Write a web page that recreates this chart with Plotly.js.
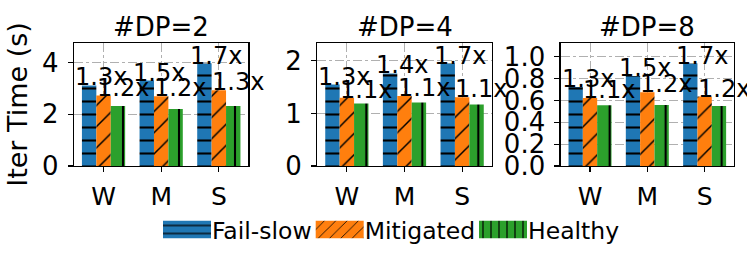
<!DOCTYPE html>
<html>
<head>
<meta charset="utf-8">
<script src="https://cdn.plot.ly/plotly-3.0.1.min.js"></script>
<style>html,body{margin:0;padding:0;background:#fff;}</style>
</head>
<body>
<div id="chart" style="width:747px;height:253px;"></div>
<script>
// ---- data ----
const categories = ['W', 'M', 'S'];
const panelTitles = ['#DP=2', '#DP=4', '#DP=8'];
const seriesNames = ['Fail-slow', 'Mitigated', 'Healthy'];

const failSlowDP2 = [3.12, 3.31, 3.97];
const mitigatedDP2 = [2.73, 2.70, 2.93];
const healthyDP2 = [2.32, 2.21, 2.32];
const failLabelsDP2 = ['1.3x', '1.5x', '1.7x'];
const mitLabelsDP2 = ['1.2x', '1.2x', '1.3x'];

const failSlowDP4 = [1.55, 1.76, 1.95];
const mitigatedDP4 = [1.30, 1.33, 1.31];
const healthyDP4 = [1.19, 1.21, 1.17];
const failLabelsDP4 = ['1.3x', '1.4x', '1.7x'];
const mitLabelsDP4 = ['1.1x', '1.1x', '1.1x'];

const failSlowDP8 = [0.722, 0.823, 0.938];
const mitigatedDP8 = [0.622, 0.674, 0.636];
const healthyDP8 = [0.556, 0.559, 0.548];
const failLabelsDP8 = ['1.3x', '1.5x', '1.7x'];
const mitLabelsDP8 = ['1.1x', '1.2x', '1.2x'];

const yTickValsDP2 = [0, 2, 4];
const yTickValsDP4 = [0, 1, 2];
const yTickValsDP8 = [0, 0.2, 0.4, 0.6, 0.8, 1.0];

// ---- style ----
const FONT = 'DejaVu Sans, Liberation Sans, sans-serif';
const colors = ['#1f77b4', '#ff7f0e', '#2ca02c'];
const shapes = ['-', '/', '|'];
const patSize = [13, 15, 14];
const patSolid = [0.16, 0.1, 0.15];
const barW = 0.25;
const offsets = [-0.25, 0, 0.25];

const panels = [
  {fail: failSlowDP2, mit: mitigatedDP2, healthy: healthyDP2, fl: failLabelsDP2, ml: mitLabelsDP2, ticks: yTickValsDP2, fmt: ''},
  {fail: failSlowDP4, mit: mitigatedDP4, healthy: healthyDP4, fl: failLabelsDP4, ml: mitLabelsDP4, ticks: yTickValsDP4, fmt: ''},
  {fail: failSlowDP8, mit: mitigatedDP8, healthy: healthyDP8, fl: failLabelsDP8, ml: mitLabelsDP8, ticks: yTickValsDP8, fmt: '.1f'}
];

const catPos = categories.map((c, i) => i);
const traces = [];
const annotations = [];
const layout = {
  width: 747, height: 253,
  margin: {l: 74, r: 12.5, t: 42.5, b: 79, pad: 0},
  paper_bgcolor: '#fff', plot_bgcolor: '#fff',
  font: {family: FONT, size: 22, color: '#000'},
  barmode: 'overlay',
  showlegend: true,
  legend: {
    orientation: 'h', x: 0.478, xanchor: 'center', y: -0.43, yanchor: 'middle',
    font: {family: FONT, size: 23.5, color: '#000'},
    tracegroupgap: 0, bgcolor: 'rgba(0,0,0,0)',
    itemclick: false, itemdoubleclick: false
  },
  annotations: annotations
};

const domains = [[0, 0.26420], [0.36866, 0.63286], [0.73732, 1]];

panels.forEach((p, k) => {
  const sfx = k === 0 ? '' : String(k + 1);
  const xa = 'x' + sfx, ya = 'y' + sfx;
  const series = [p.fail, p.mit, p.healthy];
  series.forEach((vals, s) => {
    traces.push({
      type: 'bar',
      name: seriesNames[s],
      legendgroup: seriesNames[s],
      showlegend: k === 0,
      x: catPos.map(i => i + offsets[s]),
      y: vals,
      width: barW,
      xaxis: xa, yaxis: ya,
      marker: {
        color: colors[s],
        line: {width: 0},
        pattern: {shape: shapes[s], fgcolor: '#000', bgcolor: colors[s], size: patSize[s], solidity: patSolid[s], fillmode: 'replace'}
      },
      hoverinfo: 'skip'
    });
  });
  const maxVal = Math.max(...p.fail, ...p.mit, ...p.healthy);
  layout['xaxis' + sfx] = {
    domain: domains[k], anchor: ya,
    range: [-0.5125, 2.5125],
    tickvals: catPos, ticktext: categories,
    tickfont: {family: FONT, size: 25, color: '#000'},
    ticklabelstandoff: 3,
    showline: true, linecolor: '#000', linewidth: 1.2, mirror: true,
    ticks: 'outside', ticklen: 5, tickwidth: 1.2, tickcolor: '#000',
    showgrid: true, gridcolor: '#b0b0b0', griddash: 'dashdot', gridwidth: 1,
    zeroline: false, fixedrange: true
  };
  layout['yaxis' + sfx] = {
    domain: [0, 1], anchor: xa,
    range: [0, maxVal * 1.2],
    tickvals: p.ticks, tickformat: p.fmt,
    tickfont: {family: FONT, size: 26, color: '#000'},
    ticklabelstandoff: 4,
    showline: true, linecolor: '#000', linewidth: 1.2, mirror: true,
    ticks: 'outside', ticklen: 5, tickwidth: 1.2, tickcolor: '#000',
    showgrid: true, gridcolor: '#b0b0b0', griddash: 'dashdot', gridwidth: 1,
    zeroline: false, fixedrange: true
  };
  if (k === 0) {
    layout.yaxis.title = {text: 'Iter Time (s)', font: {family: FONT, size: 27, color: '#000'}, standoff: 6};
  }
  annotations.push({
    text: panelTitles[k], xref: xa + ' domain', x: 0.5, yref: 'paper', y: 1,
    xanchor: 'center', yanchor: 'bottom', yshift: -1, showarrow: false,
    font: {family: FONT, size: 26, color: '#000'}
  });
  catPos.forEach(i => {
    annotations.push({
      text: p.fl[i], xref: xa, yref: ya, x: i + offsets[0], y: p.fail[i],
      xanchor: 'center', yanchor: 'bottom', xshift: 12, yshift: -8, showarrow: false,
      font: {family: FONT, size: 24, color: '#000'}
    });
    annotations.push({
      text: p.ml[i], xref: xa, yref: ya, x: i + offsets[1], y: p.mit[i],
      xanchor: 'center', yanchor: 'bottom', xshift: 19, yshift: -8, showarrow: false,
      font: {family: FONT, size: 24, color: '#000'}
    });
  });
});

// legend item placement (page pixels): patch left edge, patch size, row centre
const legendPatchLeft = [163, 315.7, 479];
function fixLegend(gd) {
  const leg = gd.querySelector('.legend');
  if (!leg) return;
  leg.querySelectorAll('[clip-path]').forEach(el => el.removeAttribute('clip-path'));
  const items = leg.querySelectorAll('g.traces');
  items.forEach((it, i) => {
    if (i >= legendPatchLeft.length) return;
    const parent = it.parentNode;
    const ctm = parent.getScreenCTM();
    const dx = legendPatchLeft[i] - (ctm ? ctm.e : 0);
    const dy = 229.5 - (ctm ? ctm.f : 0);
    it.setAttribute('transform', 'translate(' + dx + ',' + dy + ')');
    it.querySelectorAll('.legendpoints path').forEach(pth => {
      pth.removeAttribute('transform');
      pth.setAttribute('d', 'M0,-8.8H48V8.8H0Z');
    });
    const t = it.querySelector('text.legendtext');
    if (t) t.setAttribute('x', '49');
  });
}

Plotly.newPlot('chart', traces, layout, {staticPlot: true, displayModeBar: false}).then(gd => {
  fixLegend(gd);
  requestAnimationFrame(() => fixLegend(gd));
  setTimeout(() => fixLegend(gd), 50);
});
</script>
</body>
</html>
